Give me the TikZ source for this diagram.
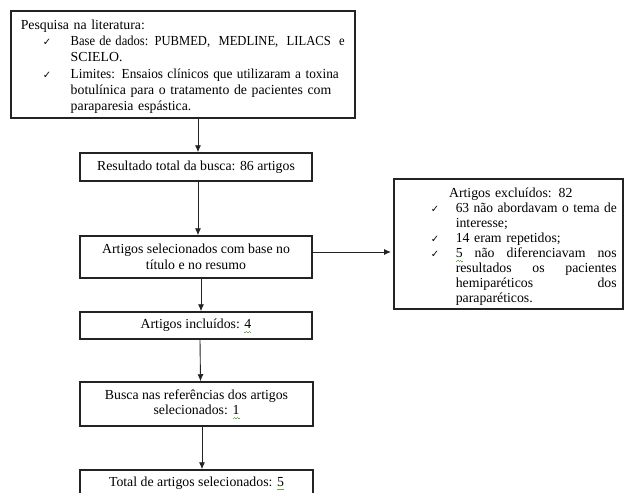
\documentclass[tikz,border=0pt]{standalone}
\usepackage{fontspec}
\usepackage{graphicx}
\setmainfont{Liberation Serif}
\newfontfamily\dejavu{DejaVu Sans}
\usetikzlibrary{arrows.meta,calc}
\definecolor{squig}{RGB}{110,170,70}
\definecolor{edge}{RGB}{35,35,35}
\newcommand\ck{{\dejavu\fontsize{10}{10}\selectfont ✓}}
\newcommand\sqseg[1]{\raisebox{#1}{\rule{1.4pt}{0.6pt}}}
\newcommand\sqg[1]{\setbox0\hbox{#1}\rlap{\copy0}\makebox[\wd0][l]{\textcolor{squig}{\sqseg{-3.6pt}\sqseg{-2.8pt}\sqseg{-3.6pt}\sqseg{-2.8pt}\sqseg{-3.6pt}}}}
\begin{document}
\begin{tikzpicture}[x=1pt,y=-1pt,
  box/.style={draw=edge,line width=1.5pt,inner sep=0pt,font=\fontsize{13.8}{15.5}\selectfont},
  arr/.style={draw=edge,line width=0.9pt,-{Latex[length=7pt,width=6pt]}}]
\clip (0,0) rectangle (625,493);
% box 1
\node[box,anchor=north west,minimum width=344pt,minimum height=107pt,text width=324pt,inner xsep=10pt,align=left,font=\fontsize{13.8}{16.2}\selectfont] (b1) at (10,10) {\rule{0pt}{14.4pt}Pesquisa na literatura:\\
\hspace*{22pt}\makebox[28pt][l]{\ck}\resizebox{274pt}{\height}{Base de dados: PUBMED, \ MEDLINE, \ LILACS \ e}\\
\hspace*{50pt}SCIELO.\\
\hspace*{22pt}\makebox[28pt][l]{\ck}\resizebox{268pt}{\height}{Limites: Ensaios clínicos que utilizaram a toxina}\\
\hspace*{50pt}\mbox{botulínica para o tratamento de pacientes com}\\
\hspace*{50pt}paraparesia espástica.};
% chain
\node[box,minimum width=232pt,minimum height=28pt] (b2) at (196,167) {Resultado total da busca: 86 artigos};
\node[box,minimum width=232pt,minimum height=42pt,align=center] (b3) at (196,257) {Artigos selecionados com base no\\título e no resumo};
\node[box,minimum width=232pt,minimum height=27pt] (b5) at (196,325.5) {Artigos incluídos: \sqg{4}};
\node[box,minimum width=233pt,minimum height=44pt,align=center] (b6) at (196.5,404) {Busca nas referências dos artigos\\selecionados: \sqg{1}};
\node[box,minimum width=233pt,minimum height=27pt] (b7) at (196.5,483.5) {Total de artigos selecionados: \sqg{5}};
% excluded box
\node[box,anchor=north west,minimum width=229pt,minimum height=130pt,text width=219pt,inner xsep=5pt,align=left,font=\fontsize{13.8}{15}\selectfont] (b4) at (393,178) {\rule{0pt}{16pt}\makebox[219pt][c]{\hspace*{5pt}Artigos excluídos: 82}\\
\hspace*{32pt}\makebox[25pt][l]{\ck}\resizebox{161pt}{\height}{63 não abordavam o tema de}\\
\hspace*{57pt}interesse;\\
\hspace*{32pt}\makebox[25pt][l]{\ck}14 eram repetidos;\\
\hspace*{32pt}\makebox[25pt][l]{\ck}\hbox to 161pt{\sqg{5} \hfill não \hfill diferenciavam \hfill nos}\\
\hspace*{57pt}\hbox to 161pt{resultados \hfill os \hfill pacientes}\\
\hspace*{57pt}\hbox to 161pt{hemiparéticos \hfill dos}\\
\hspace*{57pt}paraparéticos.};
% connectors
\draw[arr] ($(b2.north |- b1.south)+(2,0)$) -- ($(b2.north)+(2,0)$);
\draw[arr] ($(b2.south)+(2,0)$) -- ($(b3.north)+(2,0)$);
\draw[arr,shorten >=2pt] ($(b3.east)+(0,-5)$) -- ($(b4.west |- b3.east)+(0,-5)$);
\draw[arr] ($(b3.south)+(5,0)$) -- ($(b5.north)+(5,0)$);
\draw[arr] ($(b5.south)+(4,0)$) -- ($(b6.north)+(4,0)$);
\draw[arr] ($(b6.south)+(5.5,0)$) -- ($(b7.north)+(5.5,0)$);
\end{tikzpicture}
\end{document}
